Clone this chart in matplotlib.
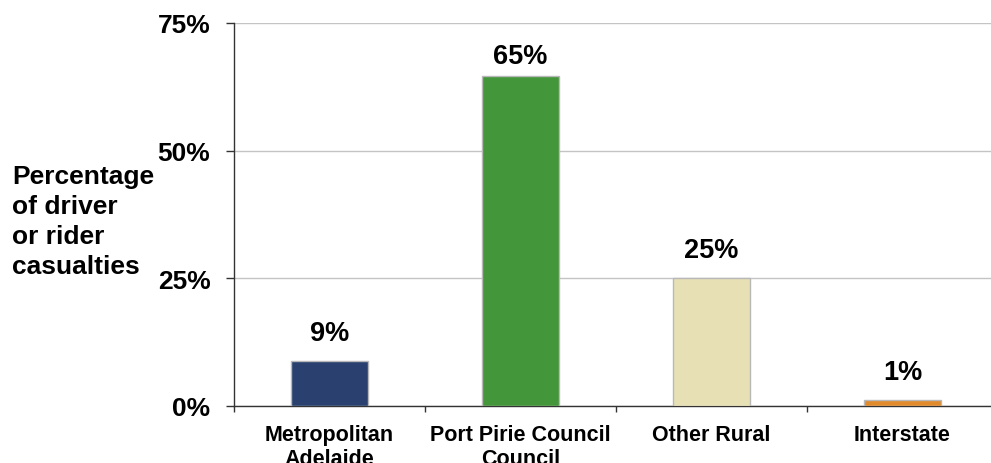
import matplotlib
matplotlib.use("Agg")
import matplotlib.pyplot as plt

categories = ["Metropolitan\nAdelaide", "Port Pirie Council\nCouncil", "Other Rural", "Interstate"]
values = [8.8, 64.6, 25.0, 1.2]
bar_labels = ["9%", "65%", "25%", "1%"]
colors = ["#2a4170", "#43963a", "#e8e0b5", "#e08a2c"]
y_ticks = [0, 25, 50, 75]
y_tick_labels = ["0%", "25%", "50%", "75%"]

plt.rcParams['font.family'] = ['Liberation Sans', 'DejaVu Sans']
plt.rcParams['font.weight'] = 'bold'

W, H = 991, 464
fig = plt.figure(figsize=(W / 100, H / 100), dpi=100)
left, right, bottom, top = 234, 998, 407, 24
ax = fig.add_axes([left / W, 1 - bottom / H, (right - left) / W, (bottom - top) / H])

x = list(range(len(categories)))
bars = ax.bar(x, values, width=0.4, color=colors, edgecolor="#b8b8b8", linewidth=1, zorder=3)

ax.set_xlim(-0.5, 3.5)
ax.set_ylim(0, 75)
ax.set_yticks(y_ticks)
ax.set_yticklabels(y_tick_labels, fontsize=19, fontweight='bold')
ax.yaxis.grid(True, color="#c4c4c4", linewidth=1, zorder=0)
ax.set_axisbelow(True)

ax.set_xticks([-0.5, 0.5, 1.5, 2.5, 3.5])
ax.set_xticklabels([])
ax.set_xticks(x, minor=True)
ax.set_xticklabels(categories, minor=True, fontsize=15.5, fontweight='bold', linespacing=1.2, va='top')
ax.tick_params(axis='x', which='minor', length=0, pad=13)
ax.tick_params(axis='x', which='major', length=4.5, width=1, color="#333333", direction='out')
ax.tick_params(axis='y', length=6, width=1, color="#333333", pad=11)

for s in ["top", "right"]:
    ax.spines[s].set_visible(False)
for s in ["left", "bottom"]:
    ax.spines[s].set_color("#333333")
    ax.spines[s].set_linewidth(1)

offsets = [11, 5, 11, 11]
for b, lab, off in zip(bars, bar_labels, offsets):
    ax.annotate(lab, (b.get_x() + b.get_width() / 2, b.get_height()),
                xytext=(0, off), textcoords='offset points', ha='center', va='bottom',
                fontsize=19.5, fontweight='bold', annotation_clip=False)

fig.text(12 / W, 1 - 222 / H, "Percentage\nof driver\nor rider\ncasualties",
         ha='left', va='center', fontsize=19, fontweight='bold', linespacing=1.3)

fig.savefig("out.png", dpi=100)
